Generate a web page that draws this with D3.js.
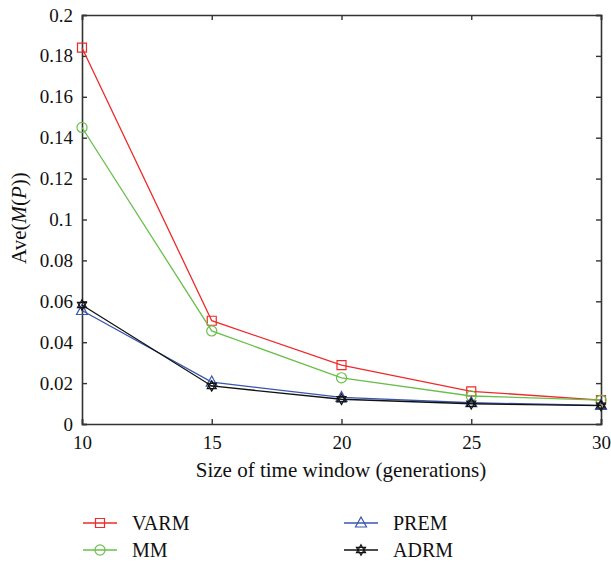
<!DOCTYPE html>
<html>
<head>
<meta charset="utf-8">
<script src="https://cdn.jsdelivr.net/npm/d3@7"></script>
<style>
  html, body { margin: 0; padding: 0; background: #fff; }
  svg text { font-family: "Liberation Serif", "DejaVu Serif", serif; fill: #111; }
</style>
</head>
<body>
<svg id="chart" width="611" height="563"></svg>
<script>
// Window sizes (generations)
const windowSizes = [10, 15, 20, 25, 30];

// Ave(M(P)) for each method
const varm = [0.184, 0.0505, 0.0288, 0.0160, 0.0117];
const mm   = [0.145, 0.0455, 0.0226, 0.0137, 0.0117];
const prem = [0.0555, 0.0205, 0.0130, 0.0104, 0.0091];
const adrm = [0.0582, 0.0186, 0.0121, 0.0099, 0.0090];

const yTicks = [0, 0.02, 0.04, 0.06, 0.08, 0.1, 0.12, 0.14, 0.16, 0.18, 0.2];
const yTickLabels = ["0", "0.02", "0.04", "0.06", "0.08", "0.1", "0.12", "0.14", "0.16", "0.18", "0.2"];

const seriesNames = ["VARM", "MM", "PREM", "ADRM"];
const seriesColors = ["#ee2a2a", "#6abf4b", "#3856ad", "#111111"];
const seriesMarkers = ["square", "circle", "triangle", "hexagram"];
const seriesValues = [varm, mm, prem, adrm];

const svg = d3.select("#chart");
const plot = { left: 82, right: 601, top: 15, bottom: 424 };

const x = d3.scaleLinear().domain([10, 30]).range([plot.left, plot.right]);
const y = d3.scaleLinear().domain([0, 0.2]).range([plot.bottom, plot.top]);

// Marker shapes
function markerPath(kind) {
  switch (kind) {
    case "square": return "M-4.5,-4.5H4.5V4.5H-4.5Z";
    case "circle": return d3.symbol(d3.symbolCircle, 80)();
    case "triangle": return "M0,-6L5.5,4L-5.5,4Z";
    case "hexagram": {
      const r = 5.2;
      const tri = a => d3.range(3).map(i => {
        const t = a + i * 2 * Math.PI / 3;
        return [r * Math.cos(t), r * Math.sin(t)];
      });
      const p = pts => "M" + pts.map(q => q.join(",")).join("L") + "Z";
      return p(tri(-Math.PI / 2)) + p(tri(Math.PI / 2));
    }
  }
}

// Axes with inward ticks, mirrored on opposite sides
const tickLen = 5;
const axisColor = "#333";

const yAxisL = d3.axisLeft(y).tickValues(yTicks).tickSize(-tickLen).tickPadding(9)
  .tickFormat((d, i) => yTickLabels[i]);
const yAxisR = d3.axisRight(y).tickValues(yTicks).tickSize(-tickLen).tickFormat("");
const xAxisB = d3.axisBottom(x).tickValues(windowSizes).tickSize(-tickLen).tickPadding(12)
  .tickFormat(d3.format("d"));
const xAxisT = d3.axisTop(x).tickValues(windowSizes).tickSize(-tickLen).tickFormat("");

function styleAxis(g) {
  g.attr("font-family", null).attr("font-size", null);
  g.select(".domain").attr("stroke", axisColor).attr("stroke-width", 1.6);
  g.selectAll(".tick line").attr("stroke", axisColor).attr("stroke-width", 1.4);
  g.selectAll(".tick text")
    .style("font-family", "'Liberation Serif', serif")
    .style("font-size", "19px")
    .attr("fill", "#111");
}

svg.append("g").attr("transform", `translate(${plot.left},0)`).call(yAxisL).call(styleAxis);
svg.append("g").attr("transform", `translate(${plot.right},0)`).call(yAxisR).call(styleAxis);
svg.append("g").attr("transform", `translate(0,${plot.bottom})`).call(xAxisB).call(styleAxis);
svg.append("g").attr("transform", `translate(0,${plot.top})`).call(xAxisT).call(styleAxis);

// Series lines and markers
const line = d3.line().x((d, i) => x(windowSizes[i])).y(d => y(d));

seriesValues.forEach((vals, s) => {
  const g = svg.append("g");
  g.append("path").datum(vals)
    .attr("d", line)
    .attr("fill", "none")
    .attr("stroke", seriesColors[s])
    .attr("stroke-width", 1.3);
  g.selectAll("path.mk").data(vals).join("path")
    .attr("class", "mk")
    .attr("transform", (d, i) => `translate(${x(windowSizes[i])},${y(d)})`)
    .attr("d", markerPath(seriesMarkers[s]))
    .attr("fill", "none")
    .attr("stroke", seriesColors[s])
    .attr("stroke-width", 1.2);
});

// Axis titles
svg.append("text")
  .attr("x", 341)
  .attr("y", 477)
  .attr("text-anchor", "middle")
  .style("font-size", "21px")
  .text("Size of time window (generations)");

const yTitle = svg.append("text")
  .attr("transform", `translate(26,218) rotate(-90)`)
  .attr("text-anchor", "middle")
  .style("font-size", "21px");
yTitle.append("tspan").text("Ave(");
yTitle.append("tspan").attr("font-style", "italic").text("M");
yTitle.append("tspan").text("(");
yTitle.append("tspan").attr("font-style", "italic").text("P");
yTitle.append("tspan").text("))");

// Legend
const legendPos = [
  { x: 83, y: 523 }, { x: 83, y: 550 },
  { x: 344, y: 523 }, { x: 344, y: 550 }
];
seriesNames.forEach((name, s) => {
  const p = legendPos[s];
  const g = svg.append("g").attr("transform", `translate(${p.x},${p.y})`);
  g.append("line").attr("x1", 0).attr("x2", 34).attr("y1", 0).attr("y2", 0)
    .attr("stroke", seriesColors[s]).attr("stroke-width", 1.3);
  g.append("path").attr("transform", "translate(17,0)")
    .attr("d", markerPath(seriesMarkers[s]))
    .attr("fill", "none").attr("stroke", seriesColors[s]).attr("stroke-width", 1.2);
  g.append("text").attr("x", 49).attr("y", 7).style("font-size", "20px").text(name);
});
</script>
</body>
</html>
